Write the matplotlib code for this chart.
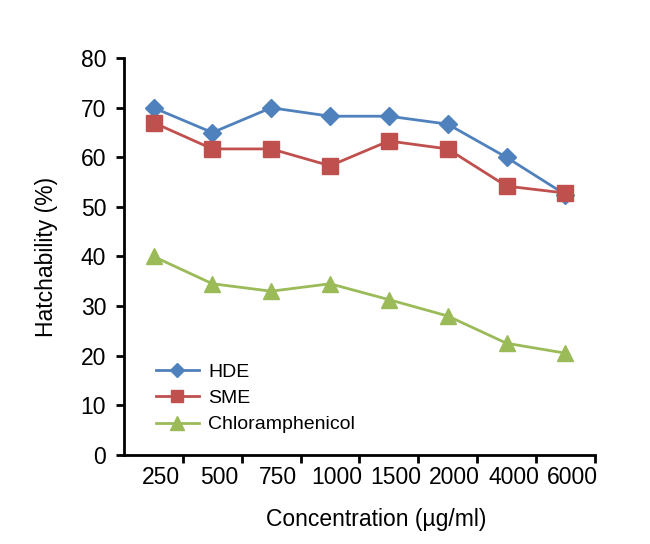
import matplotlib.pyplot as plt
from matplotlib.transforms import ScaledTranslation

plt.rcParams['font.family'] = ['Liberation Sans', 'DejaVu Sans']

concentrations = ['250', '500', '750', '1000', '1500', '2000', '4000', '6000']
hde = [70, 65, 70, 68.3, 68.3, 66.7, 60, 52.5]
sme = [67, 61.7, 61.7, 58.3, 63.3, 61.7, 54.2, 52.8]
chloramphenicol = [40, 34.5, 33, 34.5, 31.3, 28, 22.5, 20.5]

x = list(range(len(concentrations)))

fig = plt.figure(figsize=(6.5, 5.44), dpi=100)
ax = fig.add_axes([0.191, 0.164, 0.724, 0.729])

ax.plot(x, hde, color='#4F81BD', marker='D', markersize=9, linewidth=2, label='HDE')
ax.plot(x, sme, color='#C0504D', marker='s', markersize=11, linewidth=2, label='SME')
ax.plot(x, chloramphenicol, color='#9BBB59', marker='^', markersize=12, linewidth=2,
        label='Chloramphenicol')

ax.set_xlim(-0.5, len(x) - 0.5)
ax.set_ylim(0, 80)
ax.set_yticks(range(0, 81, 10))
ax.set_xticks(x)
ax.set_xticklabels(concentrations)
ax.set_xticks([i + 0.5 for i in x], minor=True)
ax.tick_params(axis='x', which='major', length=0, pad=8, labelsize=16.5)
ax.tick_params(axis='x', which='minor', length=6, width=2, direction='out')
ax.tick_params(axis='y', length=6, width=2, direction='out', labelsize=16.5, pad=7)

# labels sit a little right of the category centres, as in the original
shift = ScaledTranslation(7 / 100, 0, fig.dpi_scale_trans)
for lbl in ax.get_xticklabels():
    lbl.set_transform(lbl.get_transform() + shift)

for s in ['top', 'right']:
    ax.spines[s].set_visible(False)
for s in ['left', 'bottom']:
    ax.spines[s].set_linewidth(2)

ax.set_xlabel('Concentration (µg/ml)', fontsize=16.5, labelpad=14)
ax.xaxis.label.set_x(0.535)
ax.set_ylabel('Hatchability (%)', fontsize=16.5, labelpad=16)

ax.legend(loc='lower left', bbox_to_anchor=(0.03, 0.01), frameon=False, fontsize=14,
          handlelength=2.2, labelspacing=0.45, handletextpad=0.5, markerscale=0.8)

fig.savefig('out.png', dpi=100)
